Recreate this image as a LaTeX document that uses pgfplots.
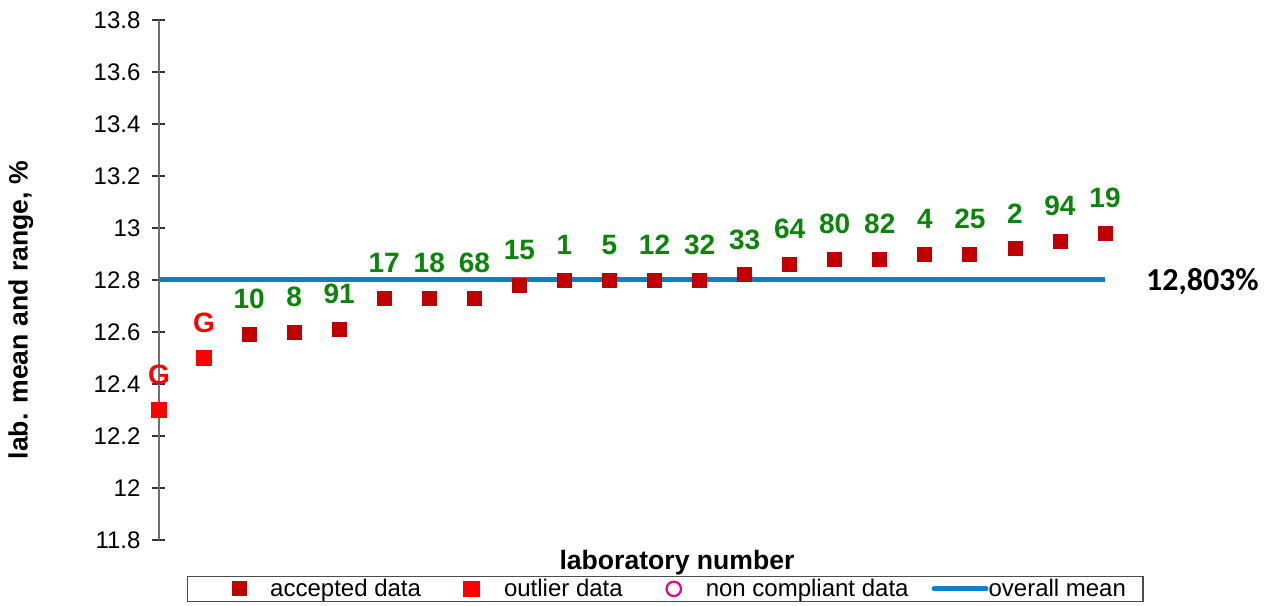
\documentclass[border=0pt]{standalone}
\usepackage{fontspec}
\setmainfont{Liberation Sans}
\newfontfamily\calibri{Carlito}
\usepackage{pgfplots}
\pgfplotsset{compat=1.18}
\definecolor{accred}{HTML}{C00000}
\definecolor{outred}{HTML}{FF0000}
\definecolor{lblgreen}{HTML}{0A850A}
\definecolor{meanblue}{HTML}{0A80C6}
\definecolor{axgray}{HTML}{707070}
% legend images with hand-set widths so the entries sit where the reference has them
\pgfplotsset{
  legmark/.style n args={2}{legend image code/.code={
    \path[draw=none] (0pt,0pt) -- (#1,0pt);
    \draw[##1] plot[only marks] coordinates {(#2,0pt)};}},
  meanleg/.style={legend image code/.code={
    \path[draw=none] (0pt,0pt) -- (40pt,0pt);
    \draw[##1, line cap=round] (12.75pt,0pt) -- (38.75pt,0pt);}},
  labels/.style={nodes near coords, point meta=explicit symbolic,
    nodes near coords style={font=\fontsize{14}{16}\selectfont\bfseries,
      anchor=south, inner sep=0pt, yshift=12.5pt, text=#1}},
}

\pgfplotstableread{
x y lab
3 12.59 10
4 12.60 8
5 12.61 91
6 12.73 17
7 12.73 18
8 12.73 68
9 12.78 15
10 12.80 1
11 12.80 5
12 12.80 12
13 12.80 32
14 12.82 33
15 12.86 64
16 12.88 80
17 12.88 82
18 12.90 4
19 12.90 25
20 12.92 2
21 12.95 94
22 12.98 19
}\accepted

\pgfplotstableread{
x y lab
1 12.30 G
2 12.50 G
}\outliers

\begin{document}
\begin{tikzpicture}
\path[use as bounding box] (-79.5pt,-32.5pt) rectangle (560pt,270pt);
\begin{axis}[
  at={(0,0)}, anchor=south west,
  scale only axis, width=473pt, height=260pt,
  xmin=1, xmax=22, ymin=11.8, ymax=13.8,
  ytick={11.8,12,12.2,12.4,12.6,12.8,13,13.2,13.4,13.6,13.8},
  yticklabels={11.8,12,12.2,12.4,12.6,12.8,13,13.2,13.4,13.6,13.8},
  axis x line=none, axis y line=left,
  y axis line style={-, draw=axgray, line width=1pt},
  ytick style={draw=black!80, line width=0.6pt},
  tick align=center, major tick length=6.5pt,
  yticklabel style={font=\fontsize{12}{14}\selectfont, xshift=-2.5pt},
  clip=false,
  legend columns=4,
  legend style={draw=black!70, line width=0.6pt,
    font=\fontsize{12}{14}\selectfont,
    at={(rel axis cs:0.535,-0.094)}, anchor=center,
    inner ysep=0.6pt, inner xsep=8.5pt,
    nodes={inner xsep=0pt, inner ysep=0.5pt},
    /tikz/every odd column/.append style={column sep=0pt},
    /tikz/every even column/.append style={column sep=0pt}},
  legend cell align=left,
]
\addplot[only marks, mark=square*, mark size=3.5pt, color=accred,
  labels=lblgreen, legmark={33pt}{17.5pt}]
  table[x=x, y=y, meta=lab] {\accepted};
\addlegendentry{accepted data}
\addplot[only marks, mark=square*, mark size=3.75pt, color=outred,
  labels=outred, legmark={41.5pt}{25.25pt}]
  table[x=x, y=y, meta=lab] {\outliers};
\addlegendentry{outlier data}
\addlegendimage{only marks, mark=o, mark size=3.6pt, color=magenta,
  line width=1.1pt, legmark={41.5pt}{25.5pt}}
\addlegendentry{non compliant data}
\addplot[color=meanblue, line width=2.5pt, forget plot]
  coordinates {(1,12.803) (22,12.803)};
\addlegendimage{color=meanblue, line width=2.5pt, meanleg}
\addlegendentry{overall mean}
\node[anchor=west, font=\calibri\bfseries\fontsize{16}{18}\selectfont, text=black]
  at (axis cs:22,12.803) [xshift=17pt, yshift=-1pt] {12,803\%};
\node[font=\bfseries\fontsize{13.3}{15}\selectfont, anchor=center]
  at (axis cs:12.5,11.8) [yshift=-11.5pt] {laboratory number};
\node[font=\bfseries\fontsize{13.3}{15}\selectfont, rotate=90, anchor=center]
  at (rel axis cs:-0.146,0.442) {lab. mean and range, \%};
\end{axis}
\end{tikzpicture}
\end{document}
